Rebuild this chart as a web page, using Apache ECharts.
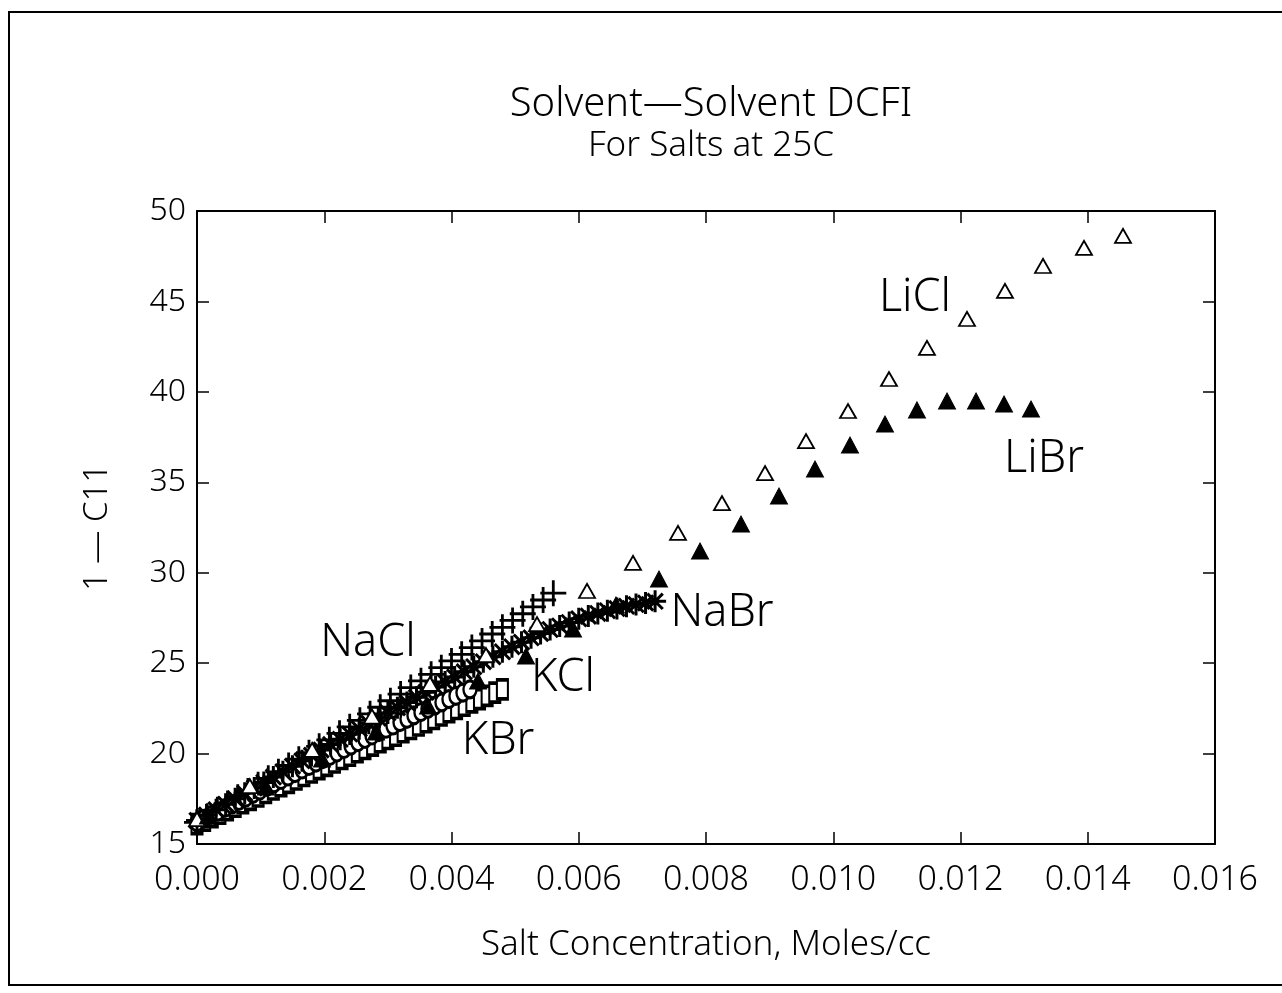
<!DOCTYPE html>
<html>
<head>
<meta charset="utf-8">
<script src="https://cdn.jsdelivr.net/npm/echarts@6/dist/echarts.min.js"></script>
<style>
html,body{margin:0;padding:0;background:#fff;}
#chart{width:1282px;height:993px;}
</style>
</head>
<body>
<div id="chart"></div>
<script>
// ---- data (x: salt concentration, moles/cc; y: 1 - C11) ----
var titleText = 'Solvent\u2014Solvent DCFI';
var subtitleText = 'For Salts at 25C';
var xAxisName = 'Salt Concentration, Moles/cc';
var yAxisName = '1 \u2014 C11';
var xMin = 0, xMax = 0.016, xStep = 0.002;
var yMin = 15, yMax = 50, yStep = 5;

var naclData = [
  [0.00000,16.20],[0.00016,16.54],[0.00032,16.89],[0.00048,17.24],[0.00064,17.58],[0.00080,17.93],
  [0.00096,18.28],[0.00112,18.63],[0.00128,18.99],[0.00144,19.34],[0.00160,19.69],[0.00176,20.05],
  [0.00192,20.40],[0.00208,20.76],[0.00224,21.12],[0.00240,21.48],[0.00256,21.84],[0.00272,22.20],
  [0.00288,22.56],[0.00304,22.92],[0.00320,23.29],[0.00336,23.65],[0.00352,24.02],[0.00368,24.38],
  [0.00384,24.75],[0.00400,25.12],[0.00416,25.49],[0.00432,25.86],[0.00448,26.23],[0.00464,26.61],
  [0.00480,26.98],[0.00496,27.36],[0.00512,27.73],[0.00528,28.11],[0.00544,28.49],[0.00560,28.87]
];

var nabrData = [
  [0.00000,16.30],[0.00015,16.60],[0.00030,16.90],[0.00045,17.20],[0.00060,17.50],[0.00075,17.80],
  [0.00090,18.10],[0.00105,18.40],[0.00120,18.70],[0.00135,19.00],[0.00150,19.30],[0.00165,19.60],
  [0.00180,19.90],[0.00195,20.20],[0.00210,20.50],[0.00225,20.79],[0.00240,21.08],[0.00255,21.37],
  [0.00270,21.67],[0.00285,21.96],[0.00300,22.25],[0.00315,22.54],[0.00330,22.82],[0.00345,23.11],
  [0.00360,23.39],[0.00375,23.68],[0.00390,23.96],[0.00405,24.24],[0.00420,24.52],[0.00435,24.80],
  [0.00450,25.08],[0.00465,25.35],[0.00480,25.63],[0.00495,25.91],[0.00510,26.16],[0.00525,26.40],
  [0.00540,26.64],[0.00555,26.86],[0.00570,27.06],[0.00585,27.25],[0.00600,27.45],[0.00615,27.60],
  [0.00630,27.75],[0.00645,27.90],[0.00660,28.02],[0.00675,28.14],[0.00690,28.24],[0.00705,28.33],
  [0.00720,28.42]
];

var kclData = [
  [0.00000,16.20],[0.00011,16.40],[0.00022,16.60],[0.00033,16.79],[0.00044,16.99],[0.00055,17.18],
  [0.00066,17.38],[0.00077,17.57],[0.00088,17.77],[0.00099,17.96],[0.00110,18.16],[0.00121,18.35],
  [0.00132,18.54],[0.00143,18.73],[0.00154,18.92],[0.00165,19.12],[0.00176,19.31],[0.00187,19.50],
  [0.00198,19.69],[0.00209,19.87],[0.00220,20.06],[0.00231,20.25],[0.00242,20.44],[0.00253,20.63],
  [0.00264,20.81],[0.00275,21.00],[0.00286,21.18],[0.00297,21.37],[0.00308,21.55],[0.00319,21.74],
  [0.00330,21.92],[0.00341,22.11],[0.00352,22.29],[0.00363,22.47],[0.00374,22.65],[0.00385,22.83],
  [0.00396,23.01],[0.00407,23.19],[0.00418,23.37],[0.00429,23.55]
];

var kbrData = [
  [0.00000,16.10],[0.00012,16.29],[0.00024,16.48],[0.00036,16.67],[0.00048,16.87],[0.00060,17.06],
  [0.00072,17.25],[0.00084,17.44],[0.00096,17.63],[0.00108,17.82],[0.00120,18.01],[0.00132,18.19],
  [0.00144,18.38],[0.00156,18.57],[0.00168,18.76],[0.00180,18.95],[0.00192,19.14],[0.00204,19.32],
  [0.00216,19.51],[0.00228,19.70],[0.00240,19.88],[0.00252,20.07],[0.00264,20.25],[0.00276,20.44],
  [0.00288,20.63],[0.00300,20.81],[0.00312,20.99],[0.00324,21.18],[0.00336,21.36],[0.00348,21.55],
  [0.00360,21.73],[0.00372,21.91],[0.00384,22.10],[0.00396,22.28],[0.00408,22.46],[0.00420,22.64],
  [0.00432,22.83],[0.00444,23.01],[0.00456,23.19],[0.00468,23.37],[0.00480,23.55]
];

var liclData = [
  [0.00000,16.38],[0.00083,18.20],[0.00181,20.20],[0.00275,22.05],[0.003662,23.85],[0.004542,25.45],
  [0.005344,27.16],[0.006130,28.99],[0.006853,30.54],[0.007560,32.20],[0.008251,33.85],[0.008928,35.51],
  [0.009572,37.28],[0.010232,38.94],[0.010876,40.71],[0.011473,42.43],[0.012102,44.03],[0.012699,45.58],
  [0.013297,46.96],[0.013941,47.96],[0.014554,48.62]
];

var librData = [
  [0.000173,16.55],[0.001084,18.15],[0.001965,19.70],[0.002814,21.19],[0.003631,22.63],[0.004417,24.01],
  [0.005171,25.39],[0.005910,26.89],[0.006585,28.21],[0.007261,29.65],[0.007906,31.20],[0.008550,32.69],
  [0.009147,34.24],[0.009713,35.73],[0.010263,37.06],[0.010813,38.22],[0.011316,39.00],[0.011788,39.49],
  [0.012244,39.49],[0.012684,39.33],[0.013108,39.05]
];

// in-plot series labels: [text, x, y] (label centre, data coordinates)
var seriesLabels = [
  ['LiCl', 0.011285, 45.19],
  ['LiBr', 0.013312, 36.29],
  ['NaBr', 0.008252, 27.77],
  ['NaCl', 0.002688, 26.11],
  ['KCl',  0.005753, 24.18],
  ['KBr',  0.004731, 20.69]
];

// ---- chart ----
var FONT = "'Noto Sans'";
var FW = 300;
var plusPath = 'path://M0,5 L10,5 M5,0 L5,10';
var starPath = 'path://M0,5 L10,5 M5,0 L5,10 M1.5,1.5 L8.5,8.5 M1.5,8.5 L8.5,1.5';

var chart = echarts.init(document.getElementById('chart'), null, {renderer: 'canvas'});

function axisBase(extra) {
  var a = {
    type: 'value',
    axisLine: {show: true, onZero: false, lineStyle: {color: '#000', width: 2}},
    axisTick: {show: true, inside: true, length: 12, lineStyle: {color: '#000', width: 1.5}},
    splitLine: {show: false},
    axisLabel: {show: false}
  };
  for (var k in extra) a[k] = extra[k];
  return a;
}

var option = {
  backgroundColor: '#fff',
  animation: false,
  title: [
    {text: titleText, left: 706, textAlign: 'center', top: 80,
     textStyle: {fontFamily: FONT, fontWeight: FW, fontSize: 40, color: '#000'}},
    {text: subtitleText, left: 706, textAlign: 'center', top: 124,
     textStyle: {fontFamily: FONT, fontWeight: FW, fontSize: 35, color: '#000'}}
  ],
  grid: {left: 197, right: 67, top: 211, bottom: 149, containLabel: false},
  xAxis: [
    axisBase({
      position: 'bottom', min: xMin, max: xMax, interval: xStep,
      name: xAxisName, nameLocation: 'middle', nameGap: 84,
      nameTextStyle: {fontFamily: FONT, fontWeight: FW, fontSize: 35, color: '#000'},
      axisLabel: {show: true, margin: 19, color: '#000', fontFamily: FONT, fontWeight: FW, fontSize: 34,
        formatter: function (v) { return v.toFixed(3); }}
    }),
    axisBase({position: 'top', min: xMin, max: xMax, interval: xStep})
  ],
  yAxis: [
    axisBase({
      position: 'left', min: yMin, max: yMax, interval: yStep,
      name: yAxisName, nameLocation: 'middle', nameGap: 83, nameRotate: 90,
      nameTextStyle: {fontFamily: FONT, fontWeight: FW, fontSize: 33, color: '#000'},
      axisLabel: {show: true, margin: 11, color: '#000', fontFamily: FONT, fontWeight: FW, fontSize: 32,
        formatter: function (v) { return String(v); }}
    }),
    axisBase({position: 'right', min: yMin, max: yMax, interval: yStep})
  ],
  graphic: [
    {type: 'polyline', silent: true, z: -1,
     shape: {points: [[1282, 12], [9, 12], [9, 985], [1282, 985]]},
     style: {stroke: '#000', lineWidth: 2, fill: null}}
  ],
  series: [
    {type: 'scatter', name: 'NaCl', data: naclData, symbol: plusPath, symbolSize: 26,
     itemStyle: {color: 'rgba(0,0,0,0)', borderColor: '#000', borderWidth: 2.8, opacity: 1}},
    {type: 'scatter', name: 'KBr', data: kbrData, symbol: 'rect', symbolSize: [11, 19],
     itemStyle: {color: '#fff', borderColor: '#000', borderWidth: 2.7, opacity: 1}},
    {type: 'scatter', name: 'KCl', data: kclData, symbol: 'circle', symbolSize: [13, 17],
     itemStyle: {color: '#fff', borderColor: '#000', borderWidth: 2.7, opacity: 1}},
    {type: 'scatter', name: 'NaBr', data: nabrData, symbol: starPath, symbolSize: 22,
     itemStyle: {color: 'rgba(0,0,0,0)', borderColor: '#000', borderWidth: 3, opacity: 1}},
    {type: 'scatter', name: 'LiCl', data: liclData, symbol: 'triangle', symbolSize: [16, 14],
     itemStyle: {color: '#fff', borderColor: '#000', borderWidth: 1.8, opacity: 1}},
    {type: 'scatter', name: 'LiBr', data: librData, symbol: 'triangle', symbolSize: [17, 16],
     itemStyle: {color: '#000', borderColor: '#000', borderWidth: 1, opacity: 1}},
    {type: 'scatter', name: 'labels', symbol: 'circle', symbolSize: 2, silent: true, z: 5,
     itemStyle: {color: 'rgba(255,255,255,0)', borderWidth: 0},
     data: seriesLabels.map(function (d) { return {name: d[0], value: [d[1], d[2]]}; }),
     label: {show: true, position: 'inside', formatter: function (p) { return p.name; },
       color: '#000', opacity: 1, fontFamily: FONT, fontWeight: FW, fontSize: 45},
     labelLayout: {hideOverlap: false}}
  ]
};
chart.setOption(option);
</script>
</body>
</html>
